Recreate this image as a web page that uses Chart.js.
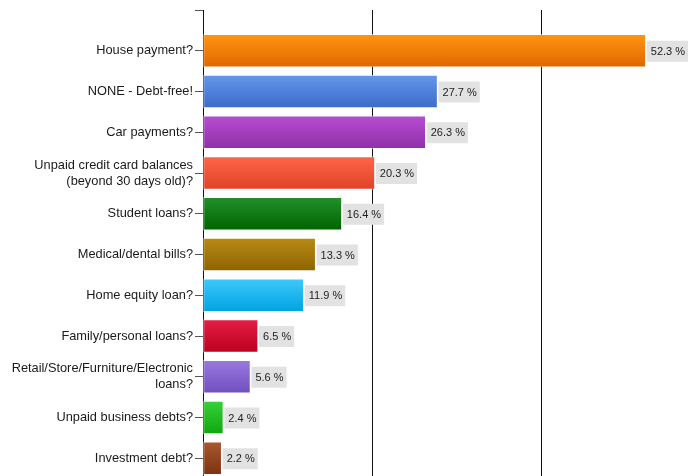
<!DOCTYPE html>
<html>
<head>
<meta charset="utf-8">
<script src="https://cdn.jsdelivr.net/npm/chart.js@4/dist/chart.umd.min.js"></script>
<style>
html, body { margin: 0; padding: 0; overflow: hidden; background: #fff; }
#wrap { width: 688px; height: 476px; overflow: hidden; }
canvas { display: block; }
</style>
</head>
<body>
<div id="wrap"><canvas id="debtChart" width="711" height="509"></canvas></div>
<script>
// Survey answers, top to bottom
const categories = [
    "House payment?",
    "NONE - Debt-free!",
    "Car payments?",
    ["Unpaid credit card balances", "(beyond 30 days old)?"],
    "Student loans?",
    "Medical/dental bills?",
    "Home equity loan?",
    "Family/personal loans?",
    ["Retail/Store/Furniture/Electronic", "loans?"],
    "Unpaid business debts?",
    "Investment debt?"
];
const values = [52.3, 27.7, 26.3, 20.3, 16.4, 13.3, 11.9, 6.5, 5.6, 2.4, 2.2];
const xTicks = [0, 20, 40, 60];

// bar gradients (top -> bottom)
const topColors = ["#ff9410", "#6496ec", "#b64dd0", "#ff6448", "#22902a", "#b88a14",
                   "#3cc8fa", "#e41e44", "#9a78e0", "#38d038", "#a8582e"];
const bottomColors = ["#e06800", "#3c6cc8", "#9030aa", "#e04428", "#006400", "#8e6400",
                      "#00a4e4", "#bc0020", "#7050c0", "#10a810", "#7c3410"];

// blank slot above and below so the axis starts with a tick at the top
const labels = ["", ...categories, ""];
const data = [null, ...values, null];

function barFill(ctx) {
    let i = ctx.dataIndex - 1;
    if (i < 0 || i >= values.length) return "transparent";
    let y = ctx.chart.scales.y;
    if (!y) return topColors[i];
    let c = y.getPixelForValue(ctx.dataIndex);
    let g = ctx.chart.ctx.createLinearGradient(0, c - 16, 0, c + 16);
    g.addColorStop(0, topColors[i]);
    g.addColorStop(1, bottomColors[i]);
    return g;
}

// gray value boxes to the right of each bar
const valueBoxes = {
    id: "valueBoxes",
    afterDatasetsDraw(chart) {
        let ctx = chart.ctx;
        let meta = chart.getDatasetMeta(0);
        ctx.save();
        ctx.font = "11px 'Liberation Sans', Arial, sans-serif";
        ctx.textBaseline = "middle";
        meta.data.forEach((bar, i) => {
            let v = data[i];
            if (v == null) return;
            let text = v.toFixed(1) + " %";
            let w = ctx.measureText(text).width + 7;
            let x = bar.x + 1;
            ctx.fillStyle = "#e2e2e2";
            ctx.fillRect(x, bar.y - 10, w, 21);
            ctx.fillStyle = "#222";
            ctx.fillText(text, x + 4, bar.y + 1);
        });
        ctx.restore();
    }
};

new Chart(document.getElementById("debtChart"), {
    type: "bar",
    data: {
        labels: labels,
        datasets: [{
            data: data,
            backgroundColor: barFill,
            borderColor: "rgba(255,255,255,0.55)",
            borderWidth: 1,
            borderSkipped: false,
            barThickness: 33
        }]
    },
    options: {
        indexAxis: "y",
        responsive: false,
        animation: false,
        layout: { padding: { top: 10, right: 0, bottom: 0, left: 0 } },
        plugins: {
            legend: { display: false },
            tooltip: { enabled: false }
        },
        scales: {
            x: {
                min: 0,
                max: 60,
                afterBuildTicks: scale => { scale.ticks = xTicks.map(v => ({ value: v })); },
                afterFit: scale => { scale.height = 0; },
                ticks: { display: false },
                border: { display: false },
                grid: { color: "#111", lineWidth: 1, drawTicks: false }
            },
            y: {
                offset: false,
                afterFit: scale => { scale.width = 203; },
                grid: { offset: false, drawOnChartArea: false, drawTicks: true, tickLength: 8, color: "#555" },
                border: { display: true, color: "#111", width: 1 },
                ticks: {
                    padding: 2,
                    color: "#1a1a1a",
                    autoSkip: false,
                    font: { family: "'Liberation Sans', Arial, sans-serif", size: 12.8, lineHeight: 1.25 }
                }
            }
        }
    },
    plugins: [valueBoxes]
});
</script>
</body>
</html>
